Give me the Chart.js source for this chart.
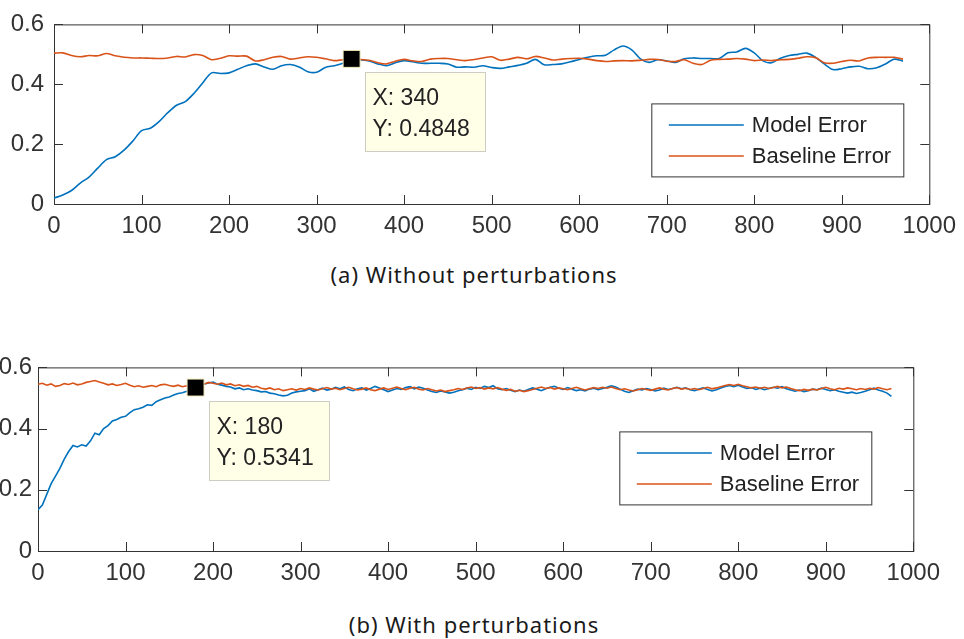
<!DOCTYPE html>
<html>
<head>
<meta charset="utf-8">
<script src="https://cdn.jsdelivr.net/npm/chart.js@4.4.0/dist/chart.umd.min.js"></script>
<style>
  html, body { margin: 0; padding: 0; background: #fff; }
  body { position: relative; width: 964px; height: 639px; overflow: hidden; }
  .plot { position: absolute; }
  #plotA { left: 0; top: 0; }
  #plotB { left: -16px; top: 347px; }
  .caption {
    position: absolute; left: 0; width: 948px; text-align: center;
    font-family: "Noto Sans", sans-serif; font-size: 22px; line-height: 22px;
    letter-spacing: 1px; color: #1a1a1a;
  }
</style>
</head>
<body>
<div class="plot" id="plotA"><canvas id="chartA" width="964" height="250"></canvas></div>
<div class="caption" style="top:263px">(a) Without perturbations</div>
<div class="plot" id="plotB"><canvas id="chartB" width="964" height="250"></canvas></div>
<div class="caption" style="top:613px">(b) With perturbations</div>

<script>
// x ticks and y ticks shared by both panels
const xTicks = [0, 100, 200, 300, 400, 500, 600, 700, 800, 900, 1000];
const yTicks = [0, 0.2, 0.4, 0.6];
const seriesNames = ["Model Error", "Baseline Error"];

// (a) without perturbations, one sample every 10 iterations
const stepA = 10;
const modelA = [
  0.02, 0.03, 0.045, 0.07, 0.09, 0.12, 0.148, 0.158, 0.18, 0.21,
  0.245, 0.253, 0.275, 0.305, 0.33, 0.342, 0.37, 0.405, 0.438, 0.436,
  0.438, 0.45, 0.462, 0.468, 0.458, 0.45, 0.462, 0.466, 0.458, 0.442,
  0.44, 0.456, 0.462, 0.47, 0.4848, 0.482, 0.478, 0.468, 0.462, 0.472,
  0.479, 0.475, 0.47, 0.47, 0.47, 0.468, 0.457, 0.458, 0.457, 0.462,
  0.456, 0.453, 0.458, 0.463, 0.47, 0.483, 0.465, 0.466, 0.468, 0.475,
  0.483, 0.49, 0.495, 0.497, 0.515, 0.528, 0.515, 0.485, 0.473, 0.482,
  0.478, 0.473, 0.485, 0.488, 0.486, 0.486, 0.486, 0.505, 0.508, 0.52,
  0.505, 0.478, 0.472, 0.487, 0.496, 0.5, 0.504, 0.49, 0.468, 0.449,
  0.452, 0.458, 0.46, 0.452, 0.455, 0.468, 0.484, 0.477
];
const baselineA = [
  0.504, 0.505, 0.496, 0.492, 0.496, 0.495, 0.503, 0.495, 0.49, 0.488,
  0.488, 0.487, 0.486, 0.488, 0.493, 0.491, 0.499, 0.496, 0.482, 0.487,
  0.495, 0.494, 0.494, 0.478, 0.482, 0.49, 0.493, 0.484, 0.488, 0.492,
  0.49, 0.485, 0.479, 0.482, 0.484, 0.483, 0.48, 0.472, 0.468, 0.477,
  0.483, 0.478, 0.476, 0.484, 0.486, 0.486, 0.482, 0.479, 0.483, 0.488,
  0.492, 0.48, 0.484, 0.49, 0.485, 0.493, 0.488, 0.481, 0.484, 0.486,
  0.487, 0.484, 0.479, 0.476, 0.478, 0.479, 0.478, 0.48, 0.483, 0.483,
  0.477, 0.476, 0.482, 0.47, 0.466, 0.48, 0.483, 0.484, 0.486, 0.484,
  0.479, 0.481, 0.479, 0.482, 0.483, 0.487, 0.492, 0.489, 0.472, 0.47,
  0.476, 0.48, 0.478, 0.488, 0.49, 0.49, 0.49, 0.484
];
const tipA = { x: 340, y: 0.4848 };

// (b) with perturbations, one sample every 5 iterations
const stepB = 5;
const modelB = [
  0.135, 0.15, 0.185, 0.22, 0.245, 0.27, 0.3, 0.325, 0.345, 0.34,
  0.347, 0.343, 0.36, 0.385, 0.38, 0.4, 0.41, 0.425, 0.43, 0.437,
  0.44, 0.452, 0.462, 0.465, 0.47, 0.478, 0.476, 0.488, 0.494, 0.5,
  0.503, 0.51, 0.515, 0.517, 0.522, 0.526, 0.5341, 0.538, 0.546, 0.549,
  0.552, 0.545, 0.542, 0.538, 0.536, 0.53, 0.533, 0.527, 0.53, 0.526,
  0.524, 0.52, 0.521, 0.516, 0.514, 0.51, 0.507, 0.509, 0.516, 0.52,
  0.522, 0.524, 0.53, 0.522, 0.527, 0.532, 0.526, 0.529, 0.535, 0.53,
  0.536, 0.528, 0.524, 0.53, 0.533, 0.526, 0.531, 0.538, 0.533, 0.527,
  0.521, 0.526, 0.531, 0.528, 0.534, 0.537, 0.53, 0.536, 0.532, 0.526,
  0.521, 0.518, 0.523, 0.52, 0.516, 0.519, 0.524, 0.527, 0.532, 0.528,
  0.535, 0.531, 0.538, 0.534, 0.54, 0.53, 0.527, 0.531, 0.525, 0.521,
  0.526, 0.522, 0.528, 0.533, 0.529, 0.524, 0.53, 0.535, 0.538, 0.532,
  0.528, 0.534, 0.529, 0.524, 0.527, 0.523, 0.529, 0.532, 0.527, 0.531,
  0.535, 0.54, 0.536, 0.529, 0.522, 0.518, 0.524, 0.529, 0.526, 0.531,
  0.528, 0.523, 0.526, 0.532, 0.528, 0.531, 0.535, 0.53, 0.533, 0.527,
  0.524, 0.529, 0.533, 0.528, 0.523, 0.527, 0.533, 0.538, 0.541, 0.537,
  0.542, 0.536, 0.531, 0.534, 0.528, 0.532, 0.527, 0.531, 0.535, 0.532,
  0.537, 0.53, 0.526, 0.522, 0.526, 0.521, 0.524, 0.529, 0.527, 0.532,
  0.528, 0.524, 0.527, 0.522, 0.519, 0.516, 0.519, 0.515, 0.518, 0.522,
  0.527, 0.532, 0.526, 0.522, 0.516, 0.505
];
const baselineB = [
  0.545, 0.548, 0.542, 0.546, 0.538, 0.541, 0.547, 0.544, 0.549, 0.543,
  0.546, 0.551, 0.554, 0.557, 0.552, 0.548, 0.543, 0.546, 0.541, 0.544,
  0.548, 0.542, 0.537, 0.54, 0.535, 0.538, 0.541, 0.537, 0.543, 0.545,
  0.541, 0.538, 0.542, 0.537, 0.54, 0.536, 0.539, 0.543, 0.546, 0.551,
  0.548, 0.545, 0.549, 0.543, 0.546, 0.54, 0.543, 0.538, 0.541, 0.535,
  0.538, 0.532, 0.529, 0.533, 0.527, 0.53, 0.524, 0.527, 0.53, 0.526,
  0.531, 0.528, 0.533, 0.529, 0.526, 0.53, 0.534, 0.529, 0.532, 0.527,
  0.531, 0.535, 0.53, 0.526, 0.529, 0.533, 0.527, 0.524, 0.529, 0.533,
  0.528, 0.532, 0.536, 0.531, 0.527, 0.532, 0.535, 0.529, 0.526, 0.531,
  0.527, 0.523, 0.526, 0.521, 0.524, 0.527, 0.531, 0.528, 0.533, 0.536,
  0.531, 0.534, 0.529, 0.533, 0.53, 0.534, 0.529, 0.525, 0.528, 0.522,
  0.525, 0.521, 0.524, 0.528, 0.532, 0.536, 0.531, 0.534, 0.529, 0.533,
  0.53, 0.527, 0.531, 0.535, 0.53, 0.526, 0.53, 0.534, 0.531, 0.535,
  0.532, 0.536, 0.531, 0.527, 0.53, 0.526, 0.523, 0.527, 0.531, 0.528,
  0.525, 0.529, 0.533, 0.529, 0.526, 0.531, 0.534, 0.529, 0.532, 0.528,
  0.531, 0.527, 0.531, 0.535, 0.53, 0.533, 0.537, 0.541, 0.544, 0.541,
  0.545, 0.54, 0.537, 0.533, 0.536, 0.532, 0.535, 0.531, 0.534, 0.538,
  0.533, 0.536, 0.531, 0.527, 0.524, 0.528, 0.525, 0.529, 0.526, 0.531,
  0.535, 0.53, 0.527, 0.532, 0.529, 0.533, 0.53, 0.527, 0.531, 0.528,
  0.532, 0.529, 0.534, 0.53, 0.527, 0.531
];
const tipB = { x: 180, y: 0.5341 };

const BLUE = "#0072BD";
const ORANGE = "#D95319";
const AXIS = "#333333";
const TICK_FONT = { family: "'Liberation Sans', Arial, sans-serif", size: 24 };

function toPoints(values, step) {
  return values.map((v, i) => ({ x: i * step, y: v }));
}

// box around the plot area with inward ticks on all four sides
const boxAxes = {
  id: "boxAxes",
  beforeDatasetsDraw(chart) {
    const { ctx, chartArea: a, scales } = chart;
    const len = 9;
    ctx.save();
    ctx.strokeStyle = AXIS;
    ctx.lineWidth = 1;
    ctx.strokeRect(a.left + 0.5, a.top + 0.5, a.right - a.left, a.bottom - a.top);
    ctx.beginPath();
    xTicks.forEach(t => {
      const px = Math.round(scales.x.getPixelForValue(t)) + 0.5;
      ctx.moveTo(px, a.bottom); ctx.lineTo(px, a.bottom - len);
      ctx.moveTo(px, a.top); ctx.lineTo(px, a.top + len);
    });
    yTicks.forEach(t => {
      const py = Math.round(scales.y.getPixelForValue(t)) + 0.5;
      ctx.moveTo(a.left, py); ctx.lineTo(a.left + len, py);
      ctx.moveTo(a.right, py); ctx.lineTo(a.right - len, py);
    });
    ctx.stroke();
    ctx.restore();
  }
};

// legend box and data tip callout
const overlay = {
  id: "overlay",
  afterDatasetsDraw(chart, args, opts) {
    const { ctx, chartArea: a, scales } = chart;
    ctx.save();

    // data tip
    const tip = opts.tip;
    const mx = scales.x.getPixelForValue(tip.x);
    const my = scales.y.getPixelForValue(tip.y);
    const bx = Math.round(mx + 13) + 0.5, by = Math.round(my + 13) + 0.5;
    ctx.fillStyle = "rgb(255,255,232)";
    ctx.strokeStyle = "rgb(205,205,195)";
    ctx.lineWidth = 1;
    ctx.fillRect(bx, by, 120, 79);
    ctx.strokeRect(bx, by, 120, 79);
    ctx.fillStyle = "#222";
    ctx.font = "23px 'Liberation Sans', Arial, sans-serif";
    ctx.textBaseline = "middle";
    ctx.textAlign = "left";
    ctx.fillText("X: " + tip.x, bx + 7, by + 26);
    ctx.fillText("Y: " + tip.y, bx + 7, by + 57);

    // legend
    const lx = a.right - opts.legendRight - 252 + 0.5;
    const ly = a.top + opts.legendTop + 0.5;
    ctx.fillStyle = "#fff";
    ctx.fillRect(lx, ly, 252, 73);
    ctx.strokeStyle = AXIS;
    ctx.strokeRect(lx, ly, 252, 73);
    [BLUE, ORANGE].forEach((c, i) => {
      const ry = Math.round(ly + 21 + i * 31);
      ctx.strokeStyle = c;
      ctx.lineWidth = 1.6;
      ctx.beginPath();
      ctx.moveTo(lx + 17, ry);
      ctx.lineTo(lx + 92, ry);
      ctx.stroke();
      ctx.fillStyle = "#222";
      ctx.font = "22px 'Liberation Sans', Arial, sans-serif";
      ctx.fillText(seriesNames[i], lx + 100, ry + 1);
    });
    ctx.restore();
  }
};

function makeChart(id, model, baseline, step, tip, smooth, labelPad, legendRight, legendTop) {
  return new Chart(document.getElementById(id), {
    type: "line",
    data: {
      datasets: [
        {
          label: "tip",
          data: [tip],
          showLine: false,
          pointStyle: "rect",
          pointRadius: 12,
          backgroundColor: "#000",
          borderColor: "#eee9b8",
          borderWidth: 1,
          order: 0,
        },
        {
          label: seriesNames[1],
          data: toPoints(baseline, step),
          borderColor: ORANGE,
          borderWidth: 1.6,
          pointRadius: 0,
          tension: smooth,
          order: 1,
        },
        {
          label: seriesNames[0],
          data: toPoints(model, step),
          borderColor: BLUE,
          borderWidth: 1.6,
          pointRadius: 0,
          tension: smooth,
          order: 2,
        },
      ],
    },
    options: {
      responsive: false,
      animation: false,
      events: [],
      layout: { padding: { left: 0, right: 27, top: 14, bottom: 0 } },
      plugins: {
        legend: { display: false },
        tooltip: { enabled: false },
        overlay: { tip: tip, legendRight: legendRight, legendTop: legendTop },
      },
      scales: {
        x: {
          type: "linear",
          min: 0,
          max: 1000,
          afterFit(s) { s.height = 46; },
          grid: { display: false, drawTicks: false },
          border: { display: false },
          ticks: {
            stepSize: 100, color: AXIS, font: TICK_FONT, padding: 8, maxRotation: 0, autoSkip: false,
            callback: v => String(v),
          },
        },
        y: {
          min: 0,
          max: 0.6,
          afterFit(s) { s.width = 54; },
          grid: { display: false, drawTicks: false },
          border: { display: false },
          ticks: { stepSize: 0.2, color: AXIS, font: TICK_FONT, padding: labelPad },
        },
      },
    },
    plugins: [boxAxes, overlay],
  });
}

makeChart("chartA", modelA, baselineA, stepA, tipA, 0.3, 10, 26, 79);
makeChart("chartB", modelB, baselineB, stepB, tipB, 0, 6, 42, 64);
</script>
</body>
</html>
